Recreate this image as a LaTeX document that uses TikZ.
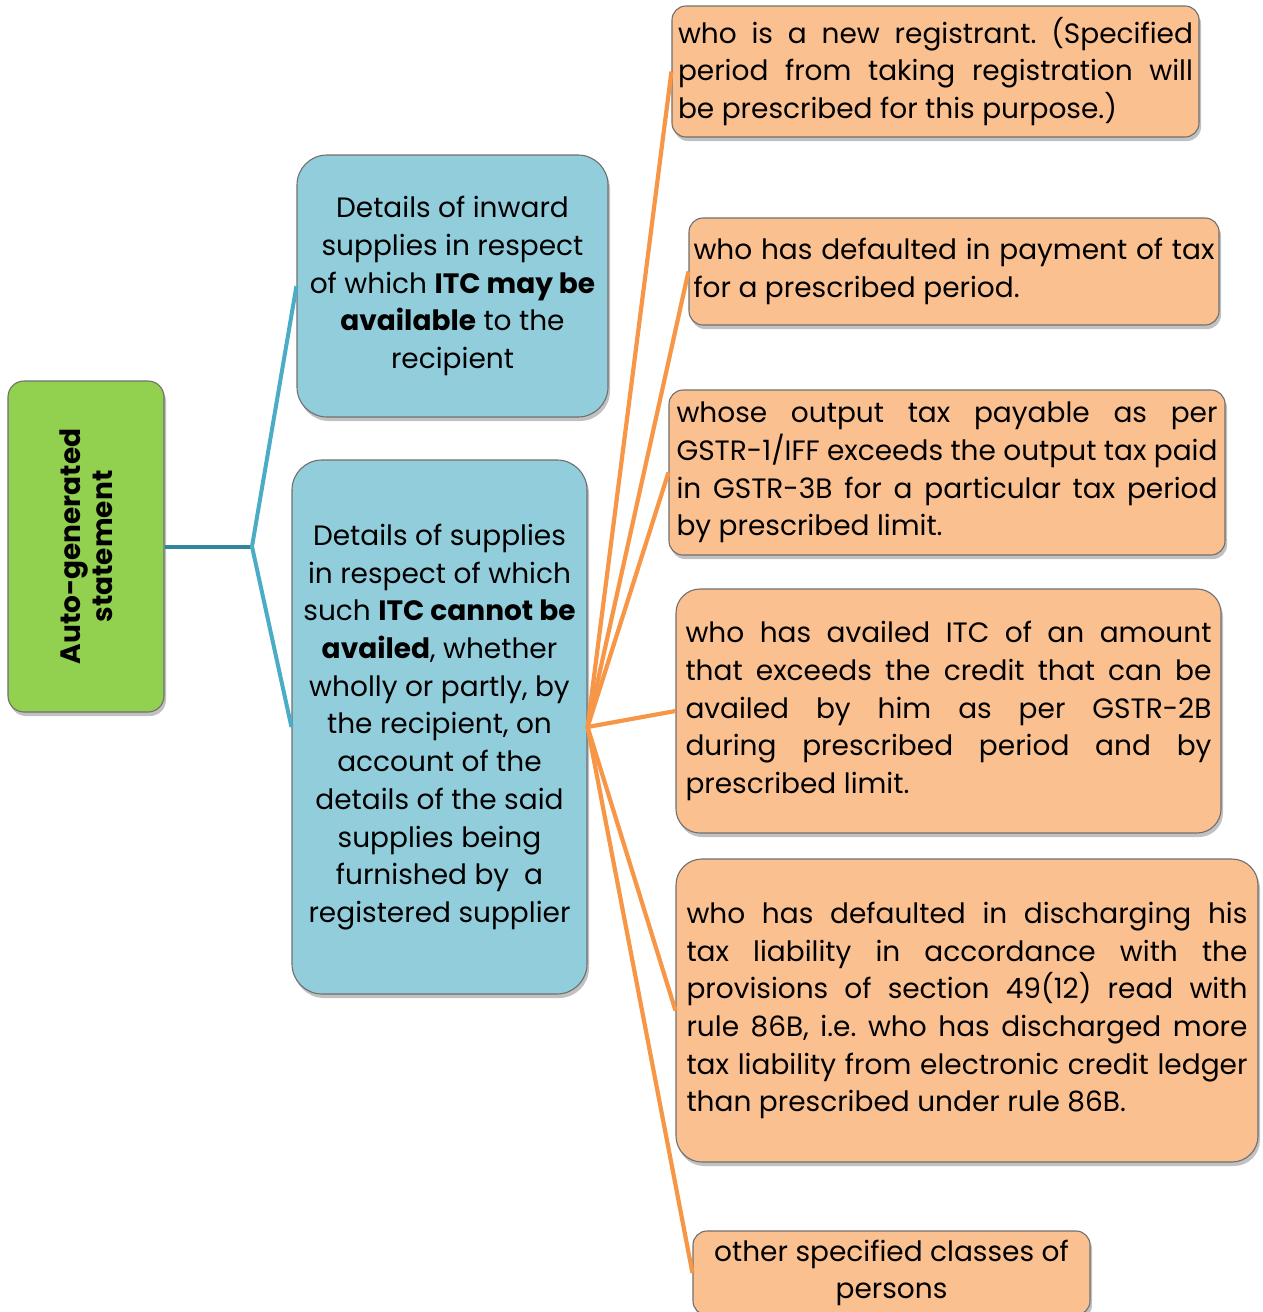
\documentclass[tikz,border=0pt]{standalone}
\usepackage{fontspec}
\setmainfont{Poppins}
\frenchspacing
\usetikzlibrary{shadows}
\definecolor{gfill}{HTML}{92D050}
\definecolor{bfill}{HTML}{92CDDC}
\definecolor{ofill}{HTML}{FAC090}
\definecolor{oline}{HTML}{F79646}
\definecolor{tline}{HTML}{4BACC6}
\definecolor{tdark}{HTML}{31859C}
\definecolor{edge}{HTML}{6F6F6F}
\newcommand\nsp{\spaceskip=0pt\xspaceskip=0pt\relax}
\newcommand\jl[2]{{\nsp\makebox[#1][s]{#2}}}
\tikzset{
  x=1pt, y=-1pt,
  boxbase/.style={draw=edge, line width=1.1pt, inner sep=0pt,
    drop shadow={shadow xshift=2pt, shadow yshift=-4pt, opacity=0.35, fill=black!70},
    font=\fontsize{28}{37.7}\selectfont},
  gbox/.style={boxbase, fill=gfill, rounded corners=16pt},
  bbox/.style={boxbase, fill=bfill, rounded corners=30pt, align=center},
  obox/.style={boxbase, fill=ofill, rounded corners=14pt, align=left},
  tconn/.style={tline, line width=4pt},
  oconn/.style={oline, line width=4.2pt},
}
\begin{document}
\begin{tikzpicture}
\useasboundingbox (0,0) rectangle (1263,1312);
\begin{scope}
\clip (0,0) rectangle (1263,1312);
% green root
\node[gbox, minimum width=156pt, minimum height=331pt] (g) at (86,546.5) {};
\node[rotate=90, align=center, font=\fontsize{28}{32}\selectfont\bfseries] (gt) at (g.center) {\nsp Auto-generated\\statement};
% blue
\node[bbox, minimum width=311pt, minimum height=262pt] (b1) at (452.5,286) {\nsp Details of inward\\\nsp supplies in respect\\\nsp of which \textbf{ITC may be}\\\nsp\textbf{available} to the\\recipient\rule[-4pt]{0pt}{1pt}};
\node[bbox, minimum width=295pt, minimum height=534pt] (b2) at (439.5,727) {\nsp Details of supplies\\\nsp in respect of which\\\nsp such \textbf{ITC cannot be}\\\nsp\textbf{availed}, whether\\\nsp wholly or partly, by\\\nsp the recipient, on\\\nsp account of the\\\nsp details of the said\\\nsp supplies being\\\nsp furnished by\ \ a\\\nsp registered supplier};
% orange
\node[obox, minimum width=527pt, minimum height=131pt, text width=515pt] (o1) at (935.5,71.5) {\jl{515pt}{who is a new registrant. (Specified}\\\jl{515pt}{period from taking registration will}\\\nsp be prescribed for this purpose.)};
\node[obox, minimum width=530pt, minimum height=107pt, text width=521pt] (o2) at (954,271.5) {\jl{521pt}{who has defaulted in payment of tax}\\\nsp for a prescribed period.};
\node[obox, minimum width=556pt, minimum height=165pt, text width=541pt] (o3) at (947,472.5) {\jl{541pt}{whose output tax payable as per}\\\jl{541pt}{GSTR-1/IFF exceeds the output tax paid}\\\jl{541pt}{in GSTR-3B for a particular tax period}\\\nsp by prescribed limit.};
\node[obox, rounded corners=24pt, minimum width=545pt, minimum height=244pt, text width=526pt] (o4) at (948.5,711) {\jl{526pt}{who has availed ITC of an amount}\\\jl{526pt}{that exceeds the credit that can be}\\\jl{526pt}{availed by him as per GSTR-2B}\\\jl{526pt}{during prescribed period and by}\\\nsp prescribed limit.};
\node[obox, rounded corners=26pt, minimum width=582pt, minimum height=303pt, text width=561pt] (o5) at (967,1010.5) {\jl{561pt}{who has defaulted in discharging his}\\\jl{561pt}{tax liability in accordance with the}\\\jl{561pt}{provisions of section 49(12) read with}\\\jl{561pt}{rule 86B, i.e. who has discharged more}\\\jl{561pt}{tax liability from electronic credit ledger}\\\nsp than prescribed under rule 86B.};
\node[obox, align=center, minimum width=397pt, minimum height=84pt] (o6) at (891.5,1273) {\nsp other specified classes of\\persons};
\end{scope}
% connectors
\coordinate (j) at (252,546.5);
\draw[tconn, tdark] (g.east) -- (j);
\draw[tconn, line join=miter] (b1.west) -- (j) -- (b2.west);
\foreach \t in {o1,o2,o3,o4,o5,o6}{
  \draw[oconn] (b2.east) -- (\t.west);
}
\end{tikzpicture}
\end{document}
